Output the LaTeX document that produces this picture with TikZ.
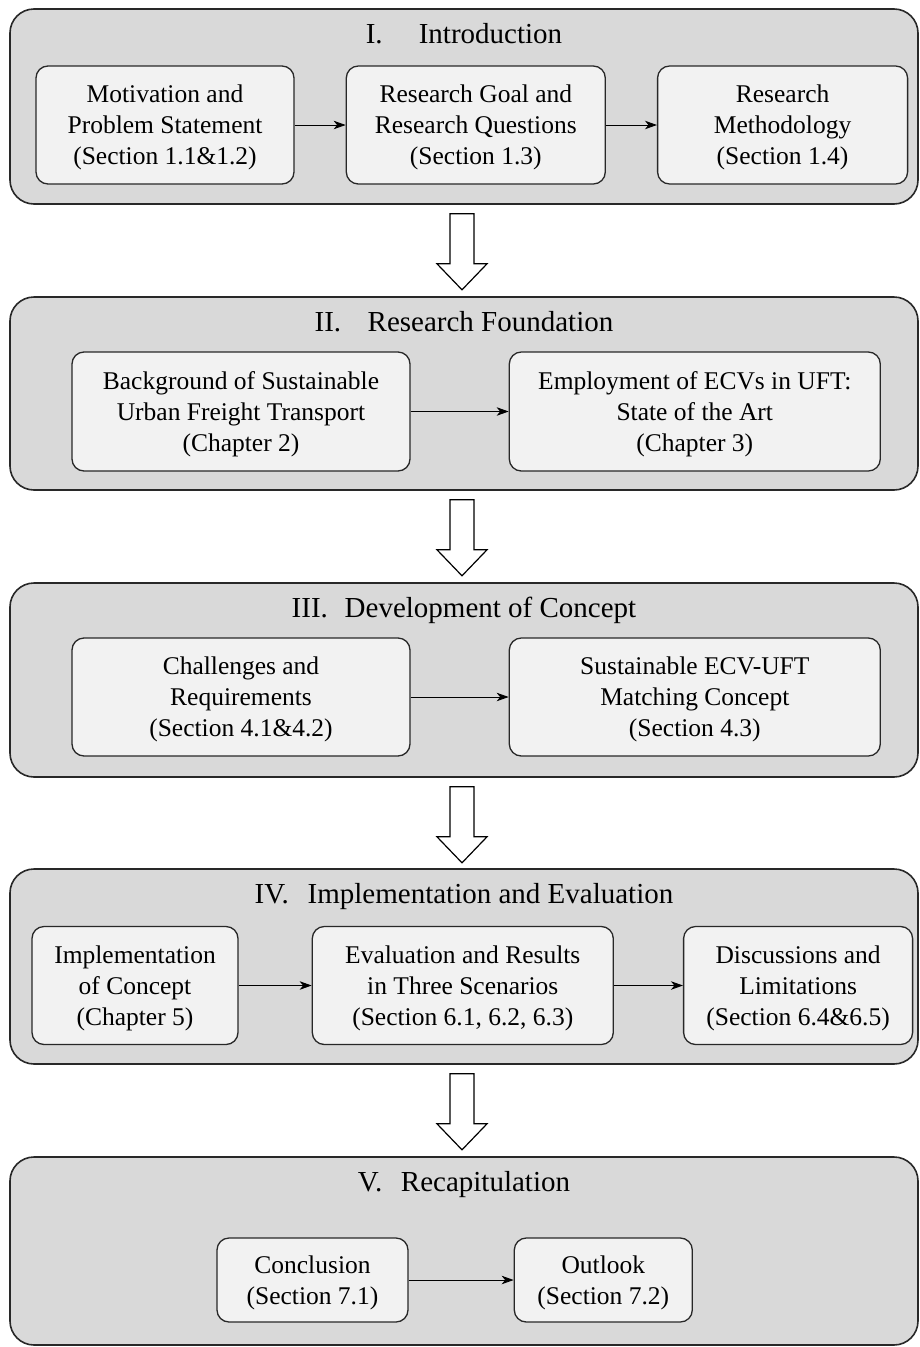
\documentclass[tikz,border=0pt]{standalone}
\usepackage{fontspec}
\setmainfont{Liberation Serif}
\usetikzlibrary{positioning,calc,arrows.meta}
\definecolor{panelgray}{RGB}{217,217,217}
\definecolor{boxgray}{RGB}{242,242,242}
\definecolor{edgegray}{RGB}{40,40,40}

\begin{document}
\begin{tikzpicture}[x=1pt, y=-1pt,
    panel/.style={draw=edgegray, line width=1.6pt, fill=panelgray, rounded corners=24pt, minimum width=908pt, inner sep=0pt},
    part/.style={anchor=base, font=\fontsize{29}{34}\selectfont},
    block/.style={draw=edgegray, line width=1.3pt, fill=boxgray, rounded corners=12pt, align=center, inner sep=0pt, text depth=0pt, minimum height=118pt, font=\fontsize{25.5}{31}\selectfont},
    flow/.style={-{Stealth[length=12pt,width=8.5pt,inset=3.5pt]}, line width=0.9pt},
    bigarrow/.style={draw=black, line width=1.2pt, fill=white}]
    \useasboundingbox (0,0) rectangle (919,1347);

    % Panels
    \node[panel, minimum height=195pt] (pI) at (464,106.5) {};
    \node[panel, minimum height=193pt] (pII) at (464,393.5) {};
    \node[panel, minimum height=194pt] (pIII) at (464,680) {};
    \node[panel, minimum height=195pt] (pIV) at (464,966.5) {};
    \node[panel, minimum height=188pt] (pV) at (464,1251) {};

    % Titles
    \node[part] (tI) at ($(pI.north)+(0,35)$) {\makebox[53pt][l]{I.}Introduction};
    \node[part] (tII) at ($(pII.north)+(0,35)$) {\makebox[53pt][l]{II.}Research Foundation};
    \node[part] (tIII) at ($(pIII.north)+(0,35)$) {\makebox[53pt][l]{III.}Development of Concept};
    \node[part] (tIV) at ($(pIV.north)+(0,35)$) {\makebox[53pt][l]{IV.}Implementation and Evaluation};
    \node[part] (tV) at ($(pV.north)+(0,35)$) {\makebox[43pt][l]{V.}Recapitulation};

    % I. Introduction
    \node[block, minimum width=258pt] (mot) at (165,125) {Motivation and\\Problem Statement\\(Section 1.1\&1.2)};
    \node[block, minimum width=259pt, right=51pt of mot] (goal) {Research Goal and\\Research Questions\\(Section 1.3)};
    \node[block, minimum width=250pt, right=51pt of goal] (meth) {Research\\Methodology\\(Section 1.4)};

    % II. Research Foundation
    \node[block, minimum width=338pt, minimum height=119pt] (bg) at (241,411.5) {Background of Sustainable\\Urban Freight Transport\\(Chapter 2)};
    \node[block, minimum width=371pt, minimum height=119pt, right=98pt of bg] (ecv) {Employment of ECVs in UFT:\\State of the Art\\(Chapter 3)};

    % III. Development of Concept
    \node[block, minimum width=338pt] (chal) at (241,697) {Challenges and\\Requirements\\(Section 4.1\&4.2)};
    \node[block, minimum width=371pt, right=98pt of chal] (match) {Sustainable ECV-UFT\\Matching Concept\\(Section 4.3)};

    % IV. Implementation and Evaluation
    \node[block, minimum width=206pt] (impl) at (135,985.5) {Implementation\\of Concept\\(Chapter 5)};
    \node[block, minimum width=301pt, right=73pt of impl] (eval) {Evaluation and Results\\in Three Scenarios\\(Section 6.1, 6.2, 6.3)};
    \node[block, minimum width=229pt, right=69pt of eval] (disc) {Discussions and\\Limitations\\(Section 6.4\&6.5)};

    % V. Recapitulation
    \node[block, minimum width=191pt, minimum height=84pt] (concl) at (312.5,1280) {Conclusion\\(Section 7.1)};
    \node[block, minimum width=178pt, minimum height=84pt, right=105pt of concl] (outl) {Outlook\\(Section 7.2)};

    % Edges
    \draw[flow] (mot) -- (goal);
    \draw[flow] (goal) -- (meth);
    \draw[flow] (bg) -- (ecv);
    \draw[flow] (chal) -- (match);
    \draw[flow] (impl) -- (eval);
    \draw[flow] (eval) -- (disc);
    \draw[flow] (concl) -- (outl);

    % Block arrows between panels
    \foreach \from in {pI,pII,pIII,pIV}
        \draw[bigarrow] ($(\from.south)+(-14,9)$) -- ++(24,0) -- ++(0,50) -- ++(13,0) -- ++(-25,26) -- ++(-25,-26) -- ++(13,0) -- cycle;

\end{tikzpicture}
\end{document}
